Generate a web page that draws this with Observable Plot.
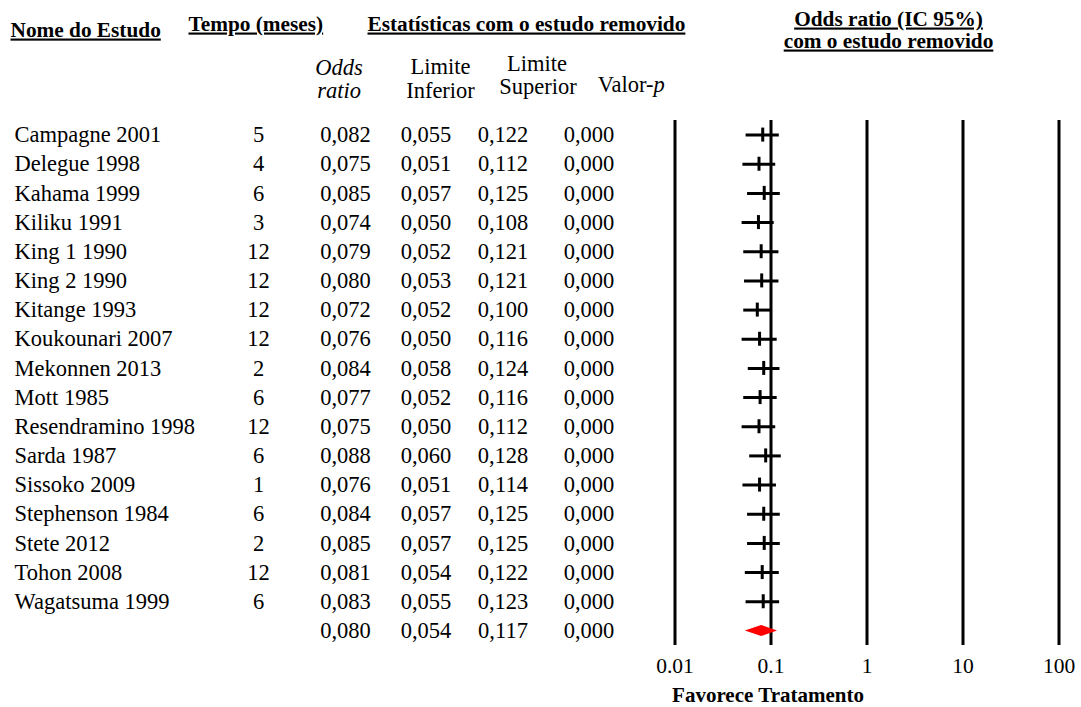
<!DOCTYPE html>
<html>
<head>
<meta charset="utf-8">
<script src="https://cdn.jsdelivr.net/npm/d3@7"></script>
<script src="https://cdn.jsdelivr.net/npm/@observablehq/plot@0.6"></script>
<style>
  html, body { margin: 0; padding: 0; background: #fff; }
</style>
</head>
<body>
<div id="chart"></div>
<script>
// ---------- data ----------
const studies = [
  "Campagne 2001", "Delegue 1998", "Kahama 1999", "Kiliku 1991", "King 1 1990",
  "King 2 1990", "Kitange 1993", "Koukounari 2007", "Mekonnen 2013", "Mott 1985",
  "Resendramino 1998", "Sarda 1987", "Sissoko 2009", "Stephenson 1984", "Stete 2012",
  "Tohon 2008", "Wagatsuma 1999"
];
const months = [5, 4, 6, 3, 12, 12, 12, 12, 2, 6, 12, 6, 1, 6, 2, 12, 6];
const oddsRatio = [0.082, 0.075, 0.085, 0.074, 0.079, 0.080, 0.072, 0.076, 0.084, 0.077, 0.075, 0.088, 0.076, 0.084, 0.085, 0.081, 0.083];
const lowerLimit = [0.055, 0.051, 0.057, 0.050, 0.052, 0.053, 0.052, 0.050, 0.058, 0.052, 0.050, 0.060, 0.051, 0.057, 0.057, 0.054, 0.055];
const upperLimit = [0.122, 0.112, 0.125, 0.108, 0.121, 0.121, 0.100, 0.116, 0.124, 0.116, 0.112, 0.128, 0.114, 0.125, 0.125, 0.122, 0.123];
const pValue = [0, 0, 0, 0, 0, 0, 0, 0, 0, 0, 0, 0, 0, 0, 0, 0, 0];
const pooledOR = 0.080, pooledLower = 0.054, pooledUpper = 0.117, pooledP = 0.000;

const axisTicks = [0.01, 0.1, 1, 10, 100];
const axisTickLabels = ["0.01", "0.1", "1", "10", "100"];
const xAxisTitle = "Favorece Tratamento";
const underlinedHeaders = [
  "Nome do Estudo", "Tempo (meses)", "Estatísticas com o estudo removido",
  "Odds ratio (IC 95%)", "com o estudo removido"
];

// ---------- derived tables ----------
const studyRows = studies.map((name, i) => ({
  i, name, months: months[i], or: oddsRatio[i], lo: lowerLimit[i], hi: upperLimit[i], p: pValue[i]
}));
const pooledRow = {i: studies.length, name: "", months: "", or: pooledOR, lo: pooledLower, hi: pooledUpper, p: pooledP};
const allRows = [...studyRows, pooledRow];
const diamondHalf = 0.19; // half height of pooled diamond, in rows
const diamond = [
  {y: pooledRow.i - diamondHalf, x1: pooledOR, x2: pooledOR},
  {y: pooledRow.i, x1: pooledLower, x2: pooledUpper},
  {y: pooledRow.i + diamondHalf, x1: pooledOR, x2: pooledOR}
];

const fmt = v => d3.format(".3f")(v).replace(".", ",");

// ---------- layout helpers ----------
const TOP = 120, BOTTOM = 62, H = 707;
const FS = 22.5, FSB = 21.3;
function label(text, x, baseline, o = {}) {
  const fs = o.fontSize ?? FS;
  return Plot.text([text], {
    text: d => d,
    frameAnchor: "top-left",
    lineAnchor: "middle",
    textAnchor: "middle",
    dx: x,
    dy: baseline - TOP - 0.32 * fs,
    fontSize: fs,
    ...o
  });
}
const bold = {fontWeight: "bold", fontSize: FSB};

function column(value, x, anchor = "middle") {
  return Plot.text(allRows, {
    y: "i", text: value, frameAnchor: "left", dx: x,
    textAnchor: anchor, lineAnchor: "middle", fontSize: FS
  });
}

const chart = Plot.plot({
  width: 1081,
  height: H,
  marginTop: TOP,
  marginBottom: BOTTOM,
  marginLeft: 0,
  marginRight: 0,
  style: {
    fontFamily: "'Liberation Serif', 'Times New Roman', serif",
    fontSize: "22px",
    background: "#fff",
    color: "#000",
    overflow: "visible"
  },
  x: {type: "log", domain: [0.01, 100], range: [674.5, 1058.5], axis: null},
  y: {domain: [-0.5, 17.5], range: [TOP, H - BOTTOM], axis: null},
  marks: [
    // headers
    label("Nome do Estudo", 10, 36, {...bold, textAnchor: "start"}),
    label("Tempo (meses)", 188, 30, {...bold, textAnchor: "start"}),
    label("Estatísticas com o estudo removido", 367, 30, {...bold, textAnchor: "start"}),
    label("Odds ratio (IC 95%)", 888, 25, bold),
    label("com o estudo removido", 888, 47, bold),
    label("Odds", 338.5, 74, {fontStyle: "italic"}),
    label("ratio", 338.5, 97, {fontStyle: "italic"}),
    label("Limite", 440, 73),
    label("Inferior", 440, 97),
    label("Limite", 536.5, 70),
    label("Superior", 537.5, 93),
    label("Valor-", 653, 91, {textAnchor: "end"}),
    label("p", 653, 91, {textAnchor: "start", fontStyle: "italic"}),

    // table columns
    column("name", 14, "start"),
    column(d => d.months === "" ? "" : String(d.months), 258),
    column(d => fmt(d.or), 345),
    column(d => fmt(d.lo), 425.5),
    column(d => fmt(d.hi), 502.5),
    column(d => fmt(d.p), 588.5),

    // forest plot
    Plot.ruleX(axisTicks, {x: d => d, stroke: "#000", strokeWidth: 3}),
    Plot.ruleY(studyRows, {y: "i", x1: "lo", x2: "hi", stroke: "#000", strokeWidth: 3}),
    Plot.ruleX(studyRows, {x: "or", y1: "i", y2: "i", insetTop: -7, insetBottom: -7, stroke: "#000", strokeWidth: 3}),
    Plot.areaX(diamond, {y: "y", x1: "x1", x2: "x2", fill: "#ff0000", curve: "linear"}),

    // axis tick labels
    Plot.text(axisTicks, {
      x: d => d, text: (d, i) => axisTickLabels[i], frameAnchor: "bottom",
      lineAnchor: "middle", dy: 672 - (H - BOTTOM) - 0.32 * 21.5, fontSize: 21.5
    }),
    label(xAxisTitle, 767.5, 701, {...bold, fontSize: 21})
  ]
});

d3.select(chart).selectAll("text")
  .filter(function () { return underlinedHeaders.includes(this.textContent); })
  .style("text-decoration", "underline")
  .style("text-decoration-thickness", "2px");

document.getElementById("chart").appendChild(chart);
</script>
</body>
</html>
